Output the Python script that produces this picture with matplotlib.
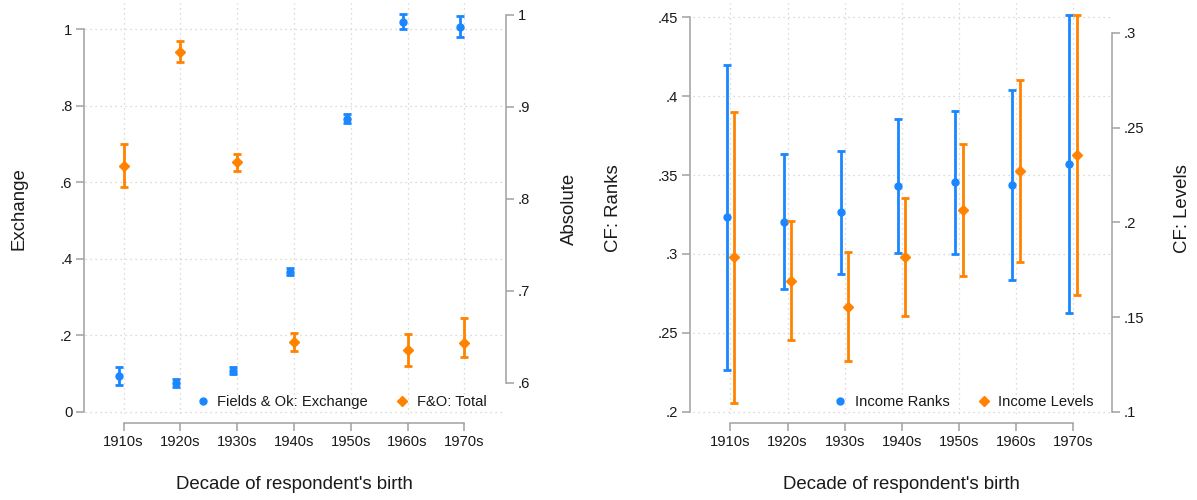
import numpy as np
import matplotlib
matplotlib.use('Agg')
import matplotlib.pyplot as plt
from matplotlib.lines import Line2D

plt.rcParams['font.family'] = ['Liberation Sans', 'DejaVu Sans']

# Decades of birth
decades = ['1910s', '1920s', '1930s', '1940s', '1950s', '1960s', '1970s']

# Fields & Ok: exchange mobility (left axis) with confidence bounds
exch = [0.093, 0.075, 0.107, 0.366, 0.766, 1.018, 1.006]
exch_lo = [0.070, 0.064, 0.099, 0.358, 0.755, 1.000, 0.978]
exch_hi = [0.116, 0.086, 0.116, 0.376, 0.777, 1.038, 1.033]

# F&O: total (absolute) mobility, no estimate for the 1950s
total = [0.836, 0.960, 0.840, 0.645, np.nan, 0.636, 0.644]
total_lo = [0.813, 0.949, 0.830, 0.635, np.nan, 0.619, 0.628]
total_hi = [0.860, 0.972, 0.849, 0.654, np.nan, 0.653, 0.671]

# Counterfactual: income ranks
ranks = [0.3232, 0.3205, 0.3264, 0.3430, 0.3458, 0.3435, 0.3570]
ranks_lo = [0.2266, 0.2777, 0.2872, 0.3008, 0.2998, 0.2833, 0.2625]
ranks_hi = [0.4196, 0.3631, 0.3654, 0.3857, 0.3905, 0.4038, 0.4515]

# Counterfactual: income levels
levels = [0.1820, 0.1691, 0.1556, 0.1818, 0.2064, 0.2270, 0.2358]
levels_lo = [0.1046, 0.1380, 0.1269, 0.1507, 0.1716, 0.1792, 0.1619]
levels_hi = [0.2585, 0.2008, 0.1844, 0.2129, 0.2414, 0.2750, 0.3097]

blue = '#1a86ff'
orange = '#ff8300'
spine_col = '#a0a0a0'
txt_col = '#1a1a1a'
fs_tick = 10.6
fs_lab = 13.4


def errbars(ax, x, y, lo, hi, color, marker):
    y = np.array(y, dtype=float)
    err = [y - np.array(lo), np.array(hi) - y]
    ax.errorbar(x, y, yerr=err, fmt=marker, color=color, ms=5.0,
                elinewidth=2.0, capsize=2.7, capthick=2.0, zorder=3)


def style(ax, ax2, yl, yr, xlim, ylim_l, ylim_r, lab_l, lab_r, lx, rx, off_l, off_r):
    ax.set_xlim(*xlim)
    ax.set_ylim(*ylim_l)
    ax2.set_ylim(*ylim_r)
    ax.set_xticks(range(len(decades)), decades)
    ax.set_yticks(yl[0], yl[1])
    ax2.set_yticks(yr[0], yr[1])
    ax.grid(True, linestyle=(0, (1, 3)), color='#cfcfcf', linewidth=0.9)
    ax.set_axisbelow(True)
    for a in (ax, ax2):
        for s in a.spines.values():
            s.set_visible(False)
        a.tick_params(colors=spine_col, labelcolor=txt_col, labelsize=fs_tick,
                      length=5.5, width=1.1, pad=3)
    ax.spines['left'].set_visible(True)
    ax.spines['left'].set_bounds(yl[0][0], yl[0][-1])
    ax.spines['left'].set_position(('outward', off_l))
    ax.spines['bottom'].set_visible(True)
    ax.spines['bottom'].set_bounds(0, len(decades) - 1)
    ax.spines['bottom'].set_position(('outward', 6.7))
    ax2.spines['right'].set_visible(True)
    ax2.spines['right'].set_bounds(yr[0][0], yr[0][-1])
    ax2.spines['right'].set_position(('outward', off_r))
    for s in (ax.spines['left'], ax.spines['bottom'], ax2.spines['right']):
        s.set_color(spine_col)
        s.set_linewidth(1.1)
    ax.set_ylabel(lab_l, fontsize=fs_lab, color=txt_col)
    ax.yaxis.set_label_coords(lx, 0.5)
    ax.yaxis.label.set_va('center')
    ax2.set_ylabel(lab_r, fontsize=fs_lab, color=txt_col)
    ax2.yaxis.set_label_coords(rx, 0.5)
    ax2.yaxis.label.set_va('center')
    ax.set_xlabel("Decade of respondent's birth", fontsize=fs_lab, color=txt_col)
    ax.xaxis.set_label_coords(0.5, -0.1727)
    ax.xaxis.label.set_va('center')


def legend(ax2, labels, x_right):
    handles = [Line2D([], [], ls='none', marker='o', color=blue, ms=5.0),
               Line2D([], [], ls='none', marker='D', color=orange, ms=4.8)]
    ax2.legend(handles, labels, loc='center right', bbox_to_anchor=(x_right, 0.029),
               ncol=2, frameon=False, fontsize=fs_tick, borderpad=0, borderaxespad=0,
               handlelength=0.8, handletextpad=0.58, columnspacing=1.95,
               labelcolor=txt_col)


fig = plt.figure(figsize=(11.97, 5.0), dpi=100)
x = np.arange(len(decades))

# Left panel: exchange vs total mobility
axl = fig.add_axes([0.0710, 0.172, 0.3492, 0.822])
axl2 = axl.twinx()
errbars(axl, x - 0.075, exch, exch_lo, exch_hi, blue, 'o')
errbars(axl2, x, total, total_lo, total_hi, orange, 'D')
style(axl, axl2,
      ([0, 0.2, 0.4, 0.6, 0.8, 1], ['0', '.2', '.4', '.6', '.8', '1']),
      ([0.6, 0.7, 0.8, 0.9, 1], ['.6', '.7', '.8', '.9', '1']),
      (-0.68, 6.68), (-0.0065, 1.068), (0.5663, 1.013),
      'Exchange', 'Absolute', -0.158, 1.16, 0.5, 2.0)
legend(axl2, ['Fields & Ok: Exchange', 'F&O: Total'], 0.9605)

# Right panel: counterfactual ranks vs levels
axr = fig.add_axes([0.5789, 0.172, 0.3484, 0.822])
axr2 = axr.twinx()
errbars(axr, x - 0.067, ranks, ranks_lo, ranks_hi, blue, 'o')
errbars(axr2, x + 0.067, levels, levels_lo, levels_hi, orange, 'D')
style(axr, axr2,
      ([0.2, 0.25, 0.3, 0.35, 0.4, 0.45], ['.2', '.25', '.3', '.35', '.4', '.45']),
      ([0.1, 0.15, 0.2, 0.25, 0.3], ['.1', '.15', '.2', '.25', '.3']),
      (-0.657, 6.65), (0.1985, 0.4591), (0.0989, 0.3158),
      'CF: Ranks', 'CF: Levels', -0.19, 1.175, 2.3, 1.2)
legend(axr2, ['Income Ranks', 'Income Levels'], 0.9616)

fig.savefig('out.png', dpi=100)
